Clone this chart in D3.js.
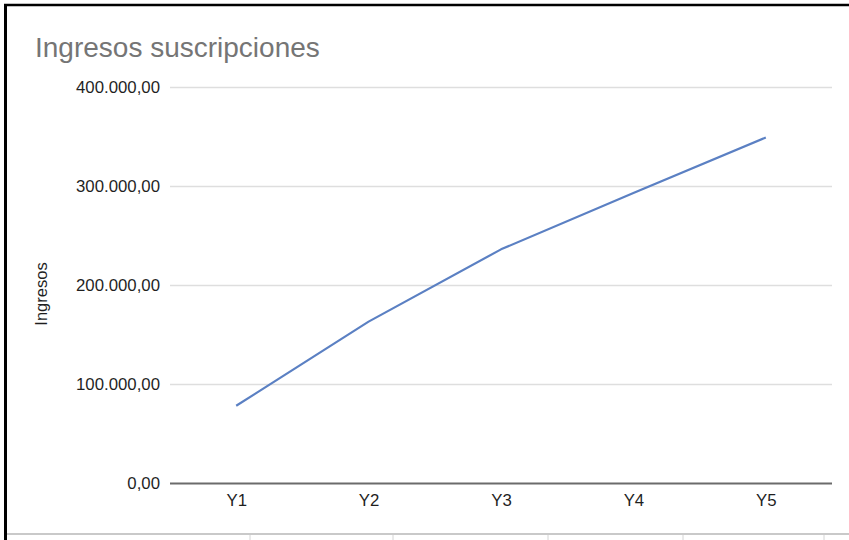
<!DOCTYPE html>
<html>
<head>
<meta charset="utf-8">
<script src="https://cdn.jsdelivr.net/npm/d3@7"></script>
<style>
  html, body { margin: 0; padding: 0; background: #ffffff; }
  svg { display: block; }
</style>
</head>
<body>
<svg id="chart" width="849" height="540"></svg>
<script>
// Yearly subscription revenue
const categories = ["Y1", "Y2", "Y3", "Y4", "Y5"];
const ingresos = [78000, 163000, 236000, 293000, 349000];
const yTicks = [0, 100000, 200000, 300000, 400000];
const chartTitle = "Ingresos suscripciones";
const yAxisTitle = "Ingresos";

const W = 849, H = 540;
const plot = { left: 170, right: 832, top: 87, bottom: 483 };
const font = "'Liberation Sans', Arial, Helvetica, sans-serif";

const svg = d3.select("#chart");

// Spanish number format: 400.000,00
const es = d3.formatLocale({ decimal: ",", thousands: ".", grouping: [3], currency: ["", " €"] });
const fmt = es.format(",.2f");

const x = d3.scalePoint().domain(categories).range([plot.left, plot.right]).padding(0.5);
const y = d3.scaleLinear().domain([0, 400000]).range([plot.bottom, plot.top]);

// Spreadsheet cells below the chart
svg.append("line")
  .attr("x1", 7).attr("x2", W).attr("y1", 534).attr("y2", 534)
  .attr("stroke", "#c9c9c9").attr("stroke-width", 2);
[250, 393, 548, 683, 824].forEach(cx => {
  svg.append("line")
    .attr("x1", cx).attr("x2", cx).attr("y1", 535).attr("y2", H)
    .attr("stroke", "#d4d4d4").attr("stroke-width", 1);
});

// Chart frame (top and left edges)
svg.append("line")
  .attr("x1", 4).attr("x2", W).attr("y1", 5).attr("y2", 5)
  .attr("stroke", "#000").attr("stroke-width", 2.5);
svg.append("line")
  .attr("x1", 5.5).attr("x2", 5.5).attr("y1", 4).attr("y2", H)
  .attr("stroke", "#000").attr("stroke-width", 3);

// Title
svg.append("text")
  .attr("x", 35).attr("y", 57)
  .attr("font-family", font).attr("font-size", 28)
  .attr("fill", "#757575")
  .text(chartTitle);

// Y axis with gridlines
const yAxis = d3.axisLeft(y)
  .tickValues(yTicks)
  .tickFormat(fmt)
  .tickSize(-(plot.right - plot.left))
  .tickPadding(10);

const gy = svg.append("g")
  .attr("transform", `translate(${plot.left},0)`)
  .call(yAxis);
gy.select(".domain").remove();
gy.selectAll(".tick line")
  .attr("stroke", d => d === 0 ? "#6b6b6b" : "#dedede")
  .attr("stroke-width", d => d === 0 ? 2 : 1.5);
gy.selectAll(".tick text")
  .attr("font-family", font).attr("font-size", 16.8)
  .attr("fill", "#1f1f1f");

// Y axis title
svg.append("text")
  .attr("transform", "translate(47,294) rotate(-90)")
  .attr("text-anchor", "middle")
  .attr("font-family", font).attr("font-size", 16.5)
  .attr("fill", "#1f1f1f")
  .text(yAxisTitle);

// X axis labels
const xAxis = d3.axisBottom(x).tickSize(0).tickPadding(11);
const gx = svg.append("g")
  .attr("transform", `translate(0,${plot.bottom})`)
  .call(xAxis);
gx.select(".domain").remove();
gx.selectAll(".tick text")
  .attr("font-family", font).attr("font-size", 16.8)
  .attr("fill", "#1f1f1f");

// Revenue line
const line = d3.line()
  .x((d, i) => x(categories[i]))
  .y(d => y(d));

svg.append("path")
  .datum(ingresos)
  .attr("fill", "none")
  .attr("stroke", "#5b80c3")
  .attr("stroke-width", 2.2)
  .attr("stroke-linejoin", "round")
  .attr("d", line);
</script>
</body>
</html>
